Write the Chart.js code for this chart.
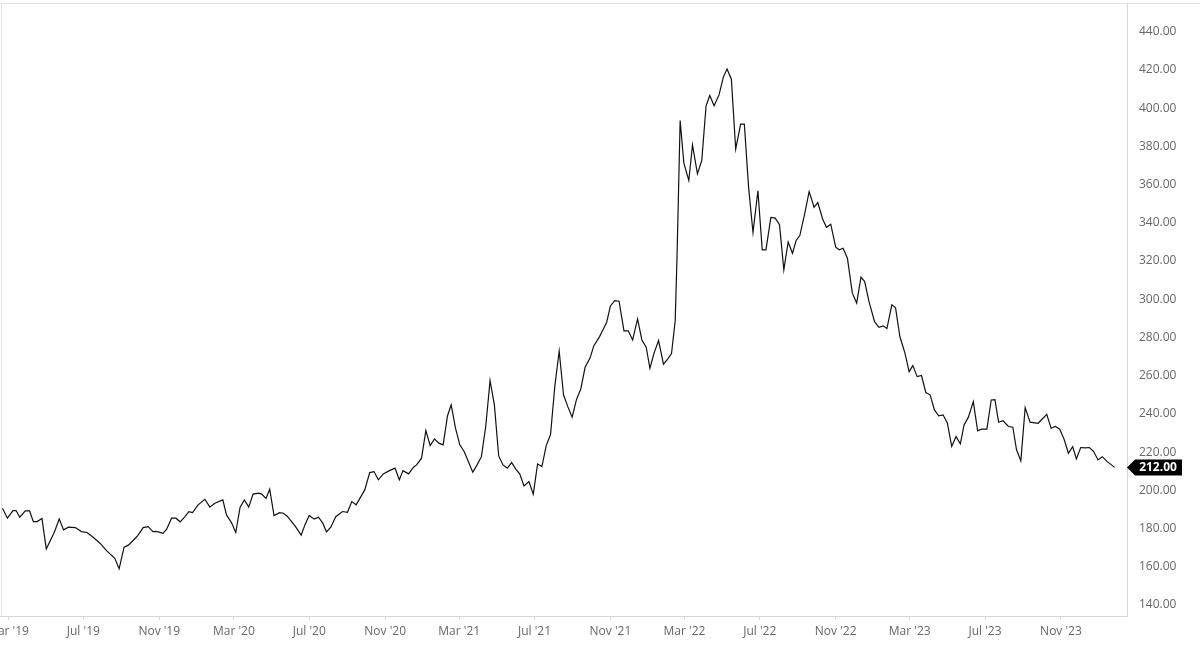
<!DOCTYPE html>
<html>
<head>
<meta charset="utf-8">
<script src="https://cdn.jsdelivr.net/npm/chart.js@4.4.1/dist/chart.umd.min.js"></script>
<style>
  html, body { margin: 0; padding: 0; background: #fff; }
  #wrap { width: 1200px; height: 648px; position: relative; }
</style>
</head>
<body>
<div id="wrap"><canvas id="price-chart"></canvas></div>
<script>
// weekly closes, x = days since startDate
const startDate = "2019-03-01";

const dayOffsets = [
  -9, -1, 8, 13, 19, 28, 35, 41, 47, 55, 62, 75, 83, 90, 98, 109, 119, 128, 138, 149,
  160, 173, 180, 188, 195, 209, 219, 227, 235, 242, 251, 257, 265, 272, 279, 287, 293, 299, 308, 319,
  327, 335, 348, 354, 362, 369, 376, 383, 390, 397, 406, 411, 418, 424, 431, 440, 446, 452, 465, 475,
  481, 488, 496, 503, 510, 516, 523, 531, 542, 550, 557, 564, 578, 586, 593, 600, 608, 618, 627, 634,
  640, 649, 657, 662, 670, 677, 684, 691, 698, 705, 712, 718, 725, 732, 739, 746, 753, 760, 767, 774,
  781, 788, 795, 802, 809, 816, 823, 829, 836, 844, 851, 858, 865, 872, 879, 886, 893, 900, 907, 914,
  921, 928, 935, 943, 949, 958, 964, 970, 976, 983, 990, 998, 1005, 1012, 1020, 1027, 1034, 1040, 1047, 1054,
  1062, 1069, 1075, 1081, 1084, 1089, 1095, 1103, 1109, 1117, 1124, 1131, 1137, 1144, 1152, 1159, 1165, 1172, 1179, 1187,
  1193, 1200, 1207, 1215, 1222, 1228, 1236, 1243, 1250, 1257, 1264, 1271, 1277, 1283, 1291, 1298, 1306, 1312, 1320, 1326,
  1333, 1341, 1347, 1353, 1360, 1368, 1375, 1382, 1388, 1395, 1404, 1411, 1418, 1424, 1432, 1438, 1445, 1453, 1460, 1466,
  1473, 1480, 1487, 1494, 1501, 1508, 1515, 1522, 1529, 1536, 1543, 1549, 1556, 1564, 1571, 1577, 1586, 1593, 1599, 1605,
  1612, 1621, 1628, 1634, 1641, 1648, 1656, 1669, 1683, 1690, 1697, 1704, 1711, 1718, 1725, 1731, 1738, 1745, 1752, 1759,
  1766, 1773, 1781, 1793
];

const closePrices = [
  190.6, 185.4, 189.4, 189.4, 185.9, 189.2, 189.2, 183.6, 183.6, 185.2, 169.3, 178.0, 185.0, 179.3, 180.7, 180.5, 178.4, 177.9, 175.4, 172.3,
  168.3, 164.4, 158.9, 170.2, 171.3, 175.8, 180.5, 181.0, 178.4, 178.4, 177.5, 179.6, 185.4, 185.4, 183.5, 186.4, 188.8, 188.3, 192.4, 195.3,
  191.2, 193.2, 195.0, 187.1, 183.1, 177.9, 191.2, 195.0, 191.2, 198.0, 198.5, 198.0, 195.7, 200.6, 186.8, 188.3, 188.0, 186.6, 181.4, 176.5,
  181.9, 186.8, 184.9, 185.9, 182.8, 178.2, 180.7, 186.2, 188.9, 188.5, 194.1, 192.4, 200.2, 209.3, 209.8, 205.5, 208.6, 210.3, 211.6, 205.5,
  210.3, 208.6, 212.1, 213.3, 216.8, 231.3, 223.4, 226.9, 224.7, 223.8, 238.9, 244.7, 232.5, 223.8, 220.3, 215.0, 209.5, 213.3, 217.6, 233.4,
  257.4, 244.7, 218.0, 213.3, 211.6, 214.5, 211.0, 208.6, 202.3, 204.6, 198.0, 213.8, 212.4, 223.4, 229.2, 254.7, 272.9, 250.0, 243.8, 238.3,
  247.5, 253.0, 264.4, 269.2, 275.6, 280.2, 284.0, 288.0, 296.5, 299.3, 299.0, 283.5, 283.5, 278.7, 289.7, 278.7, 274.9, 263.9, 272.1, 278.4,
  266.0, 268.8, 271.6, 288.8, 323.0, 393.6, 371.3, 362.2, 380.8, 365.7, 372.6, 401.3, 406.7, 401.3, 407.0, 416.3, 420.6, 415.2, 378.6, 391.7,
  391.7, 358.2, 335.0, 356.8, 325.9, 325.9, 342.9, 342.5, 339.0, 315.4, 330.0, 324.1, 330.8, 333.5, 345.1, 356.4, 348.2, 350.6, 341.9, 337.7,
  339.3, 327.3, 325.9, 326.7, 321.5, 303.2, 298.0, 311.6, 309.3, 298.8, 288.3, 285.3, 286.1, 284.7, 297.1, 295.5, 280.5, 272.1, 262.1, 265.3,
  259.5, 260.1, 251.2, 250.0, 242.1, 239.0, 239.5, 235.1, 222.9, 228.1, 224.3, 234.2, 238.3, 246.4, 231.1, 232.0, 232.0, 247.3, 247.5, 235.6,
  236.4, 233.4, 233.0, 221.2, 215.4, 243.3, 235.7, 235.1, 239.8, 232.5, 233.4, 232.0, 226.8, 219.4, 222.9, 216.4, 222.4, 222.2, 222.4, 220.3,
  215.9, 217.6, 215.0, 212.0
];

const tickDates = [
  "2019-03-01", "2019-07-01", "2019-11-01", "2020-03-01", "2020-07-01", "2020-11-01", "2021-03-01", "2021-07-01",
  "2021-11-01", "2022-03-01", "2022-07-01", "2022-11-01", "2023-03-01", "2023-07-01", "2023-11-01"
];
const tickLabels = [
  "Mar '19", "Jul '19", "Nov '19", "Mar '20", "Jul '20", "Nov '20", "Mar '21", "Jul '21",
  "Nov '21", "Mar '22", "Jul '22", "Nov '22", "Mar '23", "Jul '23", "Nov '23"
];
const priceTicks = [140, 160, 180, 200, 220, 240, 260, 280, 300, 320, 340, 360, 380, 400, 420, 440];

const DAY = 86400000;
const daysFromStart = (d) => Math.round((Date.parse(d) - Date.parse(startDate)) / DAY);
const tickDays = tickDates.map(daysFromStart);

let points = [];
dayOffsets.forEach((d, i) => {
  points.push({ x: d, y: closePrices[i] });
});

Chart.defaults.font.family = "'Open Sans', sans-serif";
Chart.defaults.font.size = 12;
Chart.defaults.color = "#666";

// frame lines round the plot
const framePlugin = {
  id: "frame",
  beforeDraw(chart) {
    const { ctx, chartArea } = chart;
    ctx.save();
    ctx.strokeStyle = "#e3e3e3";
    ctx.lineWidth = 1;
    ctx.beginPath();
    ctx.moveTo(0, chartArea.top + 0.5);
    ctx.lineTo(chart.width, chartArea.top + 0.5);
    ctx.moveTo(1.5, chartArea.top);
    ctx.lineTo(1.5, chartArea.bottom);
    ctx.stroke();
    ctx.restore();
  },
};

// black tag with last close on the right axis
const lastPricePlugin = {
  id: "lastPrice",
  afterDraw(chart) {
    const { ctx, chartArea } = chart;
    const last = closePrices[closePrices.length - 1];
    const y = chart.scales.y.getPixelForValue(last);
    const left = chartArea.right;
    ctx.save();
    ctx.fillStyle = "#000";
    ctx.beginPath();
    ctx.moveTo(left, y);
    ctx.lineTo(left + 8, y - 8);
    ctx.lineTo(left + 55, y - 8);
    ctx.lineTo(left + 55, y + 8);
    ctx.lineTo(left + 8, y + 8);
    ctx.closePath();
    ctx.fill();
    ctx.fillStyle = "#fff";
    ctx.font = "bold 12px 'Open Sans', sans-serif";
    ctx.textAlign = "center";
    ctx.textBaseline = "middle";
    ctx.fillText(last.toFixed(2), left + 31, y + 0.5);
    ctx.restore();
  },
};

const ctx = document.getElementById("price-chart");

new Chart(ctx, {
  type: "line",
  data: {
    datasets: [
      {
        data: points,
        borderColor: "#111",
        borderWidth: 1.2,
        pointRadius: 0,
        tension: 0,
        fill: false,
      },
    ],
  },
  options: {
    responsive: true,
    maintainAspectRatio: false,
    animation: false,
    layout: { autoPadding: false, padding: { top: 3, left: 0, right: 0, bottom: 0 } },
    plugins: { legend: { display: false }, tooltip: { enabled: false } },
    scales: {
      x: {
        type: "linear",
        min: -13,
        max: 1813,
        afterBuildTicks: (scale) => {
          scale.ticks = tickDays.map((v) => ({ value: v }));
        },
        afterFit: (scale) => {
          scale.height = 32;
          scale.paddingLeft = 0;
          scale.paddingRight = 0;
        },
        ticks: {
          autoSkip: false,
          maxRotation: 0,
          padding: 4,
          color: "#666",
          callback: (v) => {
            const i = tickDays.indexOf(v);
            return i >= 0 ? tickLabels[i] : "";
          },
        },
        grid: { display: true, drawOnChartArea: false, drawTicks: true, tickLength: 4, color: "#d6d6d6" },
        border: { display: true, color: "#d6d6d6" },
      },
      y: {
        position: "right",
        min: 134.2,
        max: 455.1,
        afterBuildTicks: (scale) => {
          scale.ticks = priceTicks.map((v) => ({ value: v }));
        },
        afterFit: (scale) => {
          scale.width = 73;
          scale.paddingTop = 0;
          scale.paddingBottom = 0;
        },
        ticks: {
          padding: 12,
          color: "#666",
          callback: (v) => v.toFixed(2),
        },
        grid: { display: false, drawTicks: false },
        border: { display: true, color: "#d6d6d6" },
      },
    },
  },
  plugins: [framePlugin, lastPricePlugin],
});
</script>
</body>
</html>
